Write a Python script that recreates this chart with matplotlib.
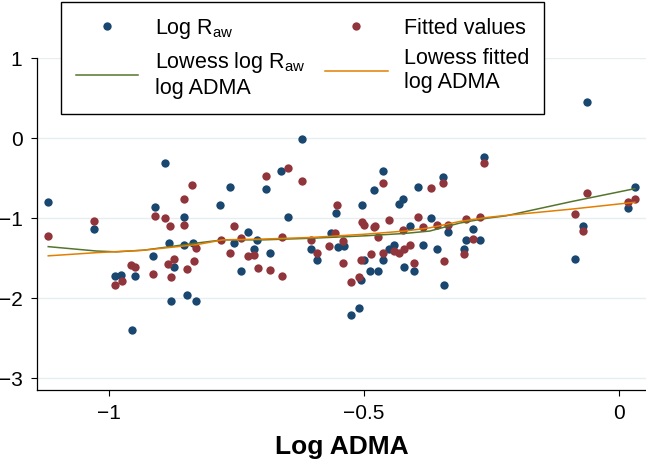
import matplotlib
matplotlib.use("Agg")
import matplotlib.pyplot as plt
from matplotlib.lines import Line2D

plt.rcParams['font.family'] = ['Liberation Sans', 'DejaVu Sans']
plt.rcParams['mathtext.fontset'] = 'custom'
plt.rcParams['mathtext.rm'] = 'Liberation Sans'
plt.rcParams['mathtext.it'] = 'Liberation Sans'

# log Raw (observed)
raw_x = [-1.119, -1.029, -0.988, -0.976, -0.955, -0.948, -0.913, -0.910, -0.890, -0.882,
         -0.878, -0.872, -0.853, -0.852, -0.846, -0.835, -0.830, -0.782, -0.741, -0.763,
         -0.755, -0.727, -0.716, -0.709, -0.692, -0.685, -0.662, -0.649, -0.621, -0.603,
         -0.593, -0.565, -0.555, -0.551, -0.539, -0.525, -0.510, -0.505, -0.503, -0.500,
         -0.488, -0.481, -0.472, -0.463, -0.462, -0.451, -0.441, -0.432, -0.423, -0.422,
         -0.410, -0.402, -0.395, -0.384, -0.368, -0.357, -0.345, -0.344, -0.336, -0.304,
         -0.299, -0.287, -0.272, -0.264, -0.086, -0.070, -0.063, 0.017, 0.031]
raw_y = [-0.80, -1.14, -1.72, -1.71, -2.40, -1.72, -1.47, -0.86, -0.305, -1.305,
         -2.03, -1.61, -0.99, -1.34, -1.96, -1.305, -2.03, -0.84, -1.66, -0.61,
         -1.31, -1.17, -1.38, -1.27, -0.64, -1.43, -0.405, -0.99, -0.015, -1.39,
         -1.52, -1.19, -0.94, -1.355, -1.35, -2.205, -2.12, -1.77, -0.84, -1.52,
         -1.655, -0.65, -1.655, -1.52, -0.415, -1.38, -1.34, -0.825, -0.755, -1.605,
         -1.10, -1.655, -0.61, -1.34, -0.995, -1.38, -0.48, -1.83, -1.17, -1.38,
         -1.27, -1.13, -1.27, -0.235, -1.515, -1.10, 0.455, -0.87, -0.61]

# fitted values
fit_x = [-1.119, -1.029, -0.988, -0.975, -0.956, -0.948, -0.914, -0.910, -0.890, -0.881,
         -0.885, -0.879, -0.873, -0.853, -0.853, -0.846, -0.837, -0.834, -0.830, -0.763,
         -0.755, -0.781, -0.741, -0.727, -0.715, -0.708, -0.692, -0.685, -0.661, -0.660,
         -0.649, -0.621, -0.603, -0.593, -0.568, -0.556, -0.552, -0.541, -0.541, -0.525,
         -0.510, -0.506, -0.503, -0.500, -0.487, -0.481, -0.478, -0.472, -0.462, -0.462,
         -0.451, -0.442, -0.432, -0.423, -0.422, -0.410, -0.402, -0.395, -0.384, -0.368,
         -0.357, -0.345, -0.344, -0.336, -0.304, -0.299, -0.287, -0.272, -0.264, -0.086,
         -0.070, -0.063, 0.017, 0.031]
fit_y = [-1.225, -1.04, -1.84, -1.78, -1.585, -1.61, -1.70, -0.975, -1.00, -1.10,
         -1.57, -1.73, -1.51, -1.085, -0.76, -1.63, -0.59, -1.54, -1.375, -1.43,
         -1.10, -1.275, -1.25, -1.475, -1.455, -1.625, -0.47, -1.645, -1.235, -1.72,
         -0.37, -0.54, -1.27, -1.43, -1.345, -1.18, -0.84, -1.28, -1.56, -1.795,
         -1.735, -1.525, -1.05, -1.08, -1.445, -1.115, -1.10, -1.235, -0.56, -1.44,
         -1.025, -1.415, -1.435, -1.145, -1.38, -1.33, -1.56, -0.99, -1.105, -0.62,
         -1.08, -0.56, -1.53, -1.08, -1.45, -1.005, -1.26, -0.98, -0.31, -0.945,
         -1.155, -0.69, -0.80, -0.755]

# lowess curves
low_raw_x = [-1.119, -1.024, -0.985, -0.933, -0.880, -0.828, -0.776, -0.697, -0.603,
             -0.499, -0.420, -0.371, -0.312, -0.259, -0.222, -0.092, 0.031]
low_raw_y = [-1.355, -1.41, -1.42, -1.40, -1.355, -1.31, -1.27, -1.27, -1.25,
             -1.22, -1.19, -1.16, -1.06, -1.00, -0.97, -0.79, -0.63]
low_fit_x = [-1.119, -1.024, -0.933, -0.828, -0.776, -0.697, -0.603, -0.499, -0.420,
             -0.371, -0.312, -0.259, -0.222, -0.092, 0.031]
low_fit_y = [-1.47, -1.43, -1.40, -1.33, -1.27, -1.26, -1.24, -1.20, -1.16,
             -1.12, -1.04, -0.99, -0.965, -0.885, -0.80]

x_ticks = [-1, -0.5, 0]
x_labels = ['\u22121', '\u22120.5', '0']
y_ticks = [1, 0, -1, -2, -3]
y_labels = ['1', '0', '\u22121', '\u22122', '\u22123']

navy = '#1a476f'
maroon = '#90353b'
green = '#55752f'
orange = '#e37e00'

fig = plt.figure(figsize=(6.46, 4.63), dpi=100)
ax = fig.add_axes([0.0573, 0.158, 0.9427, 0.716])

ax.scatter(raw_x, raw_y, s=36, color=navy, linewidths=0, zorder=3)
ax.scatter(fit_x, fit_y, s=36, color=maroon, linewidths=0, zorder=3)
ax.plot(low_raw_x, low_raw_y, color=green, lw=1.1, zorder=4)
ax.plot(low_fit_x, low_fit_y, color=orange, lw=1.1, zorder=4)

ax.set_xlim(-1.141, 0.053)
ax.set_ylim(-3.146, 1.0)
ax.set_xticks(x_ticks)
ax.set_xticklabels(x_labels)
ax.set_yticks(y_ticks)
ax.set_yticklabels(y_labels)
ax.tick_params(axis='both', direction='out', length=4.5, width=0.8, labelsize=15, pad=6)
ax.grid(axis='y', color='#e6eef0', lw=1.0)
ax.set_axisbelow(True)
for s in ['top', 'right']:
    ax.spines[s].set_visible(False)
for s in ['left', 'bottom']:
    ax.spines[s].set_linewidth(0.9)
ax.set_xlabel('Log ADMA', fontsize=19, fontweight='bold', labelpad=8)

handles = [
    Line2D([], [], ls='none', marker='o', ms=6, color=navy, mec='none'),
    Line2D([], [], color=green, lw=1.1),
    Line2D([], [], ls='none', marker='o', ms=6, color=maroon, mec='none'),
    Line2D([], [], color=orange, lw=1.1),
]
labels = ['Log R$_{\\mathrm{aw}}$', 'Lowess log R$_{\\mathrm{aw}}$\nlog ADMA',
          'Fitted values', 'Lowess fitted\nlog ADMA']
leg = fig.legend(handles, labels, ncol=2, loc='upper left',
                 bbox_to_anchor=(0.0944, 0.996, 0.748, 0.0), mode='expand',
                 borderaxespad=0, fontsize=15.5, frameon=True, fancybox=False,
                 edgecolor='black', framealpha=1, handlelength=2.9, handletextpad=0.75,
                 columnspacing=1.1, borderpad=0.7, labelspacing=0.4)
leg.get_frame().set_linewidth(1.0)

fig.savefig('out.png', dpi=100)
